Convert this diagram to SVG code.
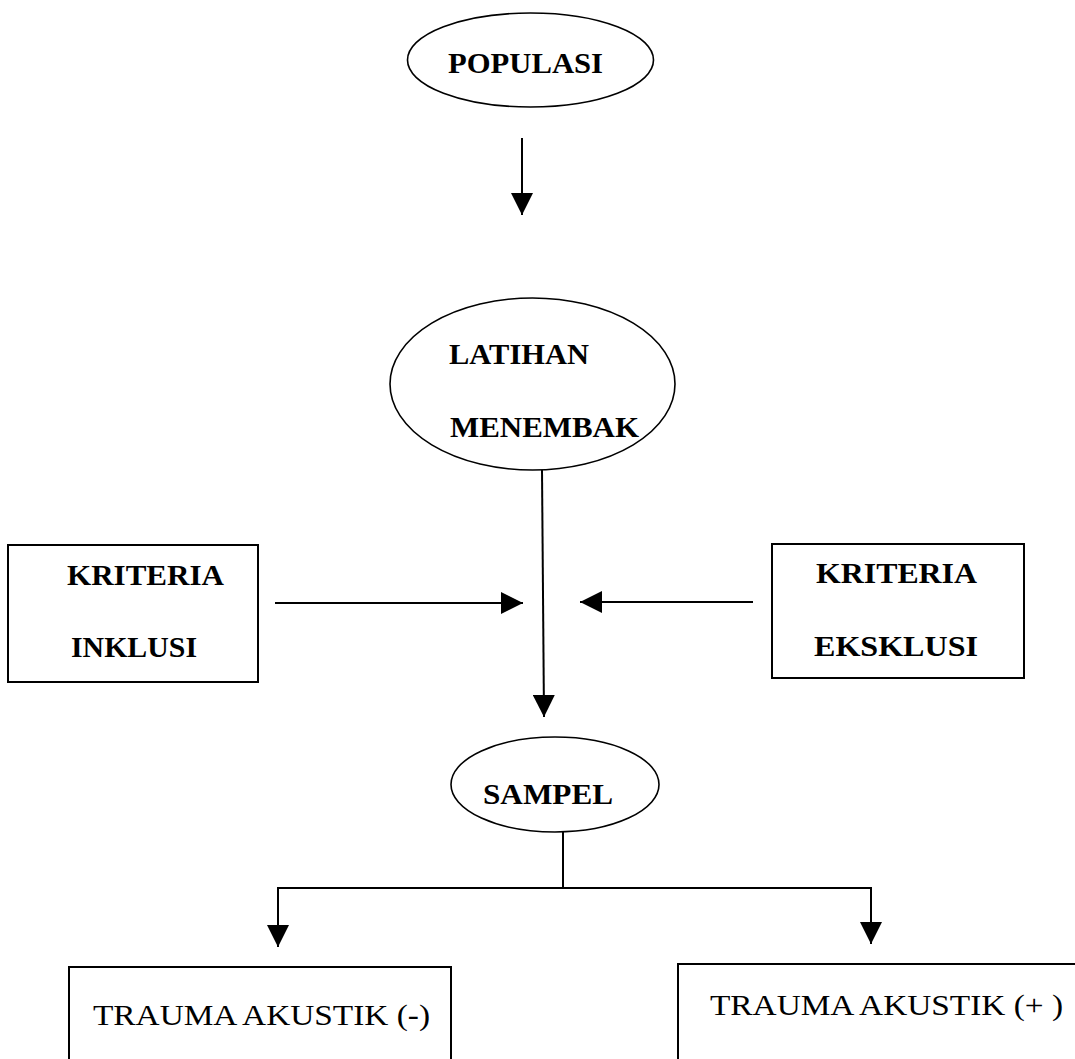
<svg xmlns="http://www.w3.org/2000/svg" width="1075" height="1059" viewBox="0 0 1075 1059">
<style>
.shape{fill:none;stroke:#000;stroke-width:1.6}
.box{fill:none;stroke:#000;stroke-width:2}
.lbl{font-family:"Liberation Serif","Times New Roman",serif;font-size:30px;font-weight:bold;fill:#000}
.reg{font-family:"Liberation Serif","Times New Roman",serif;font-size:30px;font-weight:normal;fill:#000}
.conn{fill:none;stroke:#000;stroke-width:2}
</style>
<defs>
<marker id="arr" markerUnits="userSpaceOnUse" markerWidth="22" markerHeight="22" viewBox="0 0 20 20" refX="20" refY="10" orient="auto">
<path d="M0,0 L20,10 L0,20 z" fill="#000"/>
</marker>
</defs>
<rect width="1075" height="1059" fill="#fff"/>
<g id="populasi">
<ellipse class="shape" cx="530.5" cy="60" rx="123" ry="47"/>
<text class="lbl" x="448" y="73" textLength="155" lengthAdjust="spacingAndGlyphs">POPULASI</text>
</g>
<g id="latihan">
<ellipse class="shape" cx="532.5" cy="384" rx="142.5" ry="86"/>
<text class="lbl" x="449" y="364" textLength="140" lengthAdjust="spacingAndGlyphs">LATIHAN</text>
<text class="lbl" x="450" y="437" textLength="189" lengthAdjust="spacingAndGlyphs">MENEMBAK</text>
</g>
<g id="inklusi">
<rect class="box" x="8" y="545" width="250" height="137"/>
<text class="lbl" x="67" y="585" textLength="157" lengthAdjust="spacingAndGlyphs">KRITERIA</text>
<text class="lbl" x="71" y="657" textLength="126" lengthAdjust="spacingAndGlyphs">INKLUSI</text>
</g>
<g id="eksklusi">
<rect class="box" x="772" y="544" width="252" height="134"/>
<text class="lbl" x="816" y="583" textLength="161" lengthAdjust="spacingAndGlyphs">KRITERIA</text>
<text class="lbl" x="814" y="656" textLength="164" lengthAdjust="spacingAndGlyphs">EKSKLUSI</text>
</g>
<g id="sampel">
<ellipse class="shape" cx="555" cy="784.5" rx="104" ry="47.5"/>
<text class="lbl" x="483" y="804" textLength="130" lengthAdjust="spacingAndGlyphs">SAMPEL</text>
</g>
<g id="trauma-neg">
<rect class="box" x="69" y="967" width="382" height="110"/>
<text class="reg" x="93" y="1025" textLength="337" lengthAdjust="spacingAndGlyphs">TRAUMA AKUSTIK (-)</text>
</g>
<g id="trauma-pos">
<rect class="box" x="678" y="964" width="420" height="110"/>
<text class="reg" x="710" y="1015" textLength="353" lengthAdjust="spacingAndGlyphs">TRAUMA AKUSTIK (+ )</text>
</g>
<g id="connectors">
<line class="conn" x1="522" y1="138" x2="522" y2="215" marker-end="url(#arr)"/>
<line class="conn" x1="542" y1="470" x2="544" y2="717" marker-end="url(#arr)"/>
<line class="conn" x1="275" y1="603" x2="523" y2="603" marker-end="url(#arr)"/>
<line class="conn" x1="753" y1="602" x2="580" y2="602" marker-end="url(#arr)"/>
<polyline class="conn" points="563,832 563,888"/>
<polyline class="conn" points="278,888 871,888"/>
<line class="conn" x1="278" y1="887" x2="278" y2="947" marker-end="url(#arr)"/>
<line class="conn" x1="871" y1="887" x2="871" y2="944" marker-end="url(#arr)"/>
</g>
</svg>
